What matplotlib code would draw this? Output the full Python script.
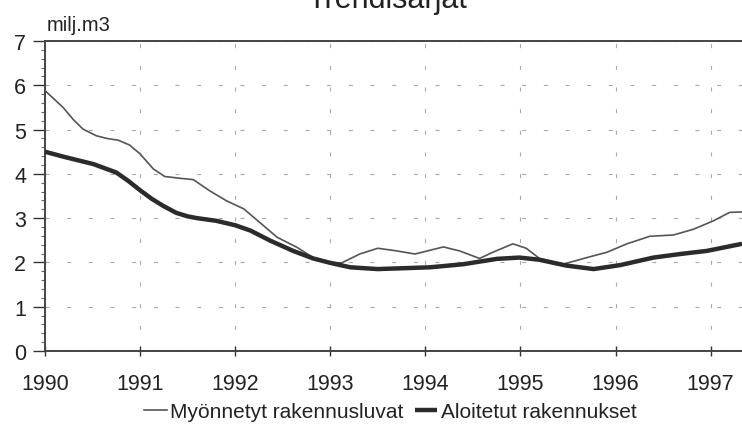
import matplotlib
matplotlib.use('Agg')
import matplotlib.pyplot as plt
from matplotlib.ticker import MultipleLocator

plt.rcParams['font.family'] = ['Liberation Sans', 'DejaVu Sans']

# Data (million m3, decimal years)
permits_x = [1990.0, 1990.08, 1990.19, 1990.30, 1990.40, 1990.54, 1990.65, 1990.77,
             1990.89, 1991.0, 1991.14, 1991.26, 1991.42, 1991.56, 1991.73, 1991.91,
             1992.09, 1992.26, 1992.44, 1992.65, 1992.82, 1993.0, 1993.12, 1993.31,
             1993.50, 1993.70, 1993.89, 1994.19, 1994.36, 1994.57, 1994.71, 1994.92,
             1995.06, 1995.20, 1995.45, 1995.70, 1995.91, 1996.12, 1996.36, 1996.61,
             1996.82, 1997.03, 1997.20, 1997.33]
permits_y = [5.88, 5.72, 5.50, 5.22, 5.01, 4.86, 4.80, 4.76,
             4.65, 4.45, 4.11, 3.94, 3.90, 3.87, 3.62, 3.39,
             3.21, 2.90, 2.57, 2.34, 2.11, 2.00, 1.99, 2.19,
             2.32, 2.26, 2.19, 2.35, 2.26, 2.09, 2.23, 2.42,
             2.32, 2.09, 1.96, 2.11, 2.23, 2.42, 2.59, 2.62,
             2.75, 2.94, 3.13, 3.14]

starts_x = [1990.0, 1990.19, 1990.51, 1990.75, 1990.87, 1991.0, 1991.12, 1991.24,
            1991.38, 1991.50, 1991.60, 1991.80, 1992.0, 1992.16, 1992.37, 1992.61,
            1992.82, 1993.0, 1993.21, 1993.50, 1994.05, 1994.40, 1994.75, 1994.99,
            1995.20, 1995.48, 1995.77, 1996.05, 1996.40, 1996.68, 1996.96, 1997.33]
starts_y = [4.50, 4.39, 4.22, 4.03, 3.85, 3.63, 3.44, 3.28,
            3.12, 3.04, 3.00, 2.94, 2.84, 2.72, 2.49, 2.26,
            2.09, 1.99, 1.89, 1.85, 1.89, 1.96, 2.08, 2.11,
            2.06, 1.93, 1.85, 1.94, 2.11, 2.19, 2.26, 2.42]

years = list(range(1990, 1998))

fig = plt.figure(figsize=(7.42, 4.35), dpi=100, facecolor='white')
ax = fig.add_axes([45 / 742, 83 / 435, 697 / 742, 310 / 435])

ax.plot(permits_x, permits_y, color='#555555', linewidth=1.2,
        label='Myönnetyt rakennusluvat', zorder=3)
ax.plot(starts_x, starts_y, color='#2b2b2b', linewidth=3.2,
        label='Aloitetut rakennukset', zorder=4, solid_capstyle='butt')

ax.set_xlim(1990, 1997.33)
ax.set_ylim(0, 7)
ax.set_xticks(years)
ax.set_yticks(range(0, 8))
ax.yaxis.set_minor_locator(MultipleLocator(0.2))

ax.grid(True, which='major', color='#a8a8a8', linewidth=0.8,
        linestyle=(0, (3.6, 15.9)))

ax.tick_params(axis='y', which='major', direction='out', length=8.5, width=1,
               pad=5, labelsize=15.5, colors='#333333', labelcolor='#222222')
ax.tick_params(axis='y', which='minor', direction='out', length=3, width=0.8,
               colors='#666666')
ax.tick_params(axis='x', which='major', direction='inout', length=7, width=1,
               pad=12, labelsize=15.5, colors='#333333', labelcolor='#222222')

for side in ['left', 'bottom', 'top']:
    ax.spines[side].set_color('#444444')
    ax.spines[side].set_linewidth(1.4)
ax.spines['right'].set_visible(False)

fig.text(47 / 742, 1 - 31 / 435, 'milj.m3', fontsize=14.5, color='#222222',
         ha='left', va='baseline')
fig.text(387.5 / 742, 1 - 8 / 435, 'Trendisarjat', fontsize=22, color='#222222',
         ha='center', va='baseline')

fig.legend(loc='center', bbox_to_anchor=(390 / 742, 1 - 413 / 435), ncol=2,
           frameon=False, fontsize=15, handlelength=1.1, handletextpad=0.15,
           columnspacing=0.55, labelcolor='#222222')

fig.savefig('out.png', dpi=100, facecolor='white')
